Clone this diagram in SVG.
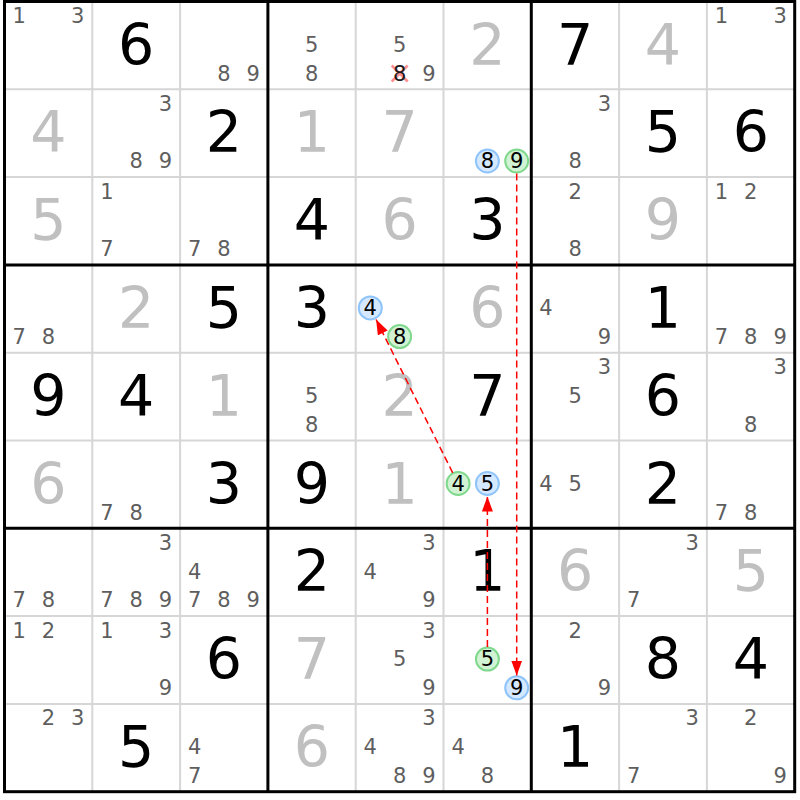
<svg xmlns="http://www.w3.org/2000/svg" width="800" height="800" viewBox="0 0 800 800">
<style>
text{font-family:"DejaVu Sans","Liberation Sans",sans-serif;text-anchor:middle}
.c{font-size:21px;fill:#5e5e5e}
.g{font-size:57px;fill:#000}
.s{font-size:57px;fill:#c0c0c0}
.cd{font-size:21px;fill:#000}
.cb{fill:#d4e8ff;stroke:#8ec4fa;stroke-width:2}
.cg{fill:#d2f2d4;stroke:#7fd88c;stroke-width:2}
.thin{stroke:#d6d6d6;stroke-width:2}
.thick{stroke:#000;stroke-width:3}
.arr{stroke:#ff0000;stroke-width:1.5;stroke-dasharray:7,4;fill:none;marker-end:url(#ah)}
</style>
<defs>
<marker id="ah" markerUnits="userSpaceOnUse" markerWidth="15" markerHeight="11" refX="15" refY="5.5" orient="auto">
<path d="M0,0 L15,5.5 L0,11 z" fill="#ff0000"/>
</marker>
</defs>
<rect width="800" height="800" fill="#fff"/>
<g id="grid">
<g class="thin">
<line x1="92.3" y1="1.5" x2="92.3" y2="791.7"/><line x1="180.1" y1="1.5" x2="180.1" y2="791.7"/>
<line x1="355.7" y1="1.5" x2="355.7" y2="791.7"/><line x1="443.5" y1="1.5" x2="443.5" y2="791.7"/>
<line x1="619.1" y1="1.5" x2="619.1" y2="791.7"/><line x1="706.9" y1="1.5" x2="706.9" y2="791.7"/>
<line x1="4.5" y1="89.3" x2="794.7" y2="89.3"/><line x1="4.5" y1="177.1" x2="794.7" y2="177.1"/>
<line x1="4.5" y1="352.7" x2="794.7" y2="352.7"/><line x1="4.5" y1="440.5" x2="794.7" y2="440.5"/>
<line x1="4.5" y1="616.1" x2="794.7" y2="616.1"/><line x1="4.5" y1="703.9" x2="794.7" y2="703.9"/>
</g>
<g class="thick">
<line x1="267.9" y1="1.5" x2="267.9" y2="791.7"/><line x1="531.3" y1="1.5" x2="531.3" y2="791.7"/>
<line x1="4.5" y1="264.9" x2="794.7" y2="264.9"/><line x1="4.5" y1="528.3" x2="794.7" y2="528.3"/>
<rect x="4.5" y="1.5" width="790.2" height="790.2" fill="none"/>
</g>
</g>
<!-- Row 1 -->
<g id="r1c1" transform="translate(4.5,1.5)"><text class="c" x="14.6" y="21.5">1</text><text class="c" x="73.2" y="21.5">3</text></g>
<g id="r1c2" transform="translate(92.3,1.5)"><text class="g" x="43.9" y="63">6</text></g>
<g id="r1c3" transform="translate(180.1,1.5)"><text class="c" x="43.9" y="79">8</text><text class="c" x="73.2" y="79">9</text></g>
<g id="r1c4" transform="translate(267.9,1.5)"><text class="c" x="43.9" y="50.3">5</text><text class="c" x="43.9" y="79">8</text></g>
<g id="r1c5" transform="translate(355.7,1.5)"><text class="c" x="43.9" y="50.3">5</text>
<g stroke="#ff8f8f" stroke-width="2.5"><line x1="36" y1="64" x2="52" y2="80"/><line x1="52" y1="64" x2="36" y2="80"/></g>
<text class="c" x="43.9" y="79" style="fill:#1a1a1a">8</text><text class="c" x="73.2" y="79">9</text></g>
<g id="r1c6" transform="translate(443.5,1.5)"><text class="s" x="43.9" y="63">2</text></g>
<g id="r1c7" transform="translate(531.3,1.5)"><text class="g" x="43.9" y="63">7</text></g>
<g id="r1c8" transform="translate(619.1,1.5)"><text class="s" x="43.9" y="63">4</text></g>
<g id="r1c9" transform="translate(706.9,1.5)"><text class="c" x="14.6" y="21.5">1</text><text class="c" x="73.2" y="21.5">3</text></g>
<!-- Row 2 -->
<g id="r2c1" transform="translate(4.5,89.3)"><text class="s" x="43.9" y="63">4</text></g>
<g id="r2c2" transform="translate(92.3,89.3)"><text class="c" x="73.2" y="21.5">3</text><text class="c" x="43.9" y="79">8</text><text class="c" x="73.2" y="79">9</text></g>
<g id="r2c3" transform="translate(180.1,89.3)"><text class="g" x="43.9" y="63">2</text></g>
<g id="r2c4" transform="translate(267.9,89.3)"><text class="s" x="43.9" y="63">1</text></g>
<g id="r2c5" transform="translate(355.7,89.3)"><text class="s" x="43.9" y="63">7</text></g>
<g id="r2c6" transform="translate(443.5,89.3)"><circle class="cb" cx="43.9" cy="71.7" r="11.5"/><text class="cd" x="43.9" y="79">8</text><circle class="cg" cx="73.2" cy="71.7" r="11.5"/><text class="cd" x="73.2" y="79">9</text></g>
<g id="r2c7" transform="translate(531.3,89.3)"><text class="c" x="73.2" y="21.5">3</text><text class="c" x="43.9" y="79">8</text></g>
<g id="r2c8" transform="translate(619.1,89.3)"><text class="g" x="43.9" y="63">5</text></g>
<g id="r2c9" transform="translate(706.9,89.3)"><text class="g" x="43.9" y="63">6</text></g>
<!-- Row 3 -->
<g id="r3c1" transform="translate(4.5,177.1)"><text class="s" x="43.9" y="63">5</text></g>
<g id="r3c2" transform="translate(92.3,177.1)"><text class="c" x="14.6" y="21.5">1</text><text class="c" x="14.6" y="79">7</text></g>
<g id="r3c3" transform="translate(180.1,177.1)"><text class="c" x="14.6" y="79">7</text><text class="c" x="43.9" y="79">8</text></g>
<g id="r3c4" transform="translate(267.9,177.1)"><text class="g" x="43.9" y="63">4</text></g>
<g id="r3c5" transform="translate(355.7,177.1)"><text class="s" x="43.9" y="63">6</text></g>
<g id="r3c6" transform="translate(443.5,177.1)"><text class="g" x="43.9" y="63">3</text></g>
<g id="r3c7" transform="translate(531.3,177.1)"><text class="c" x="43.9" y="21.5">2</text><text class="c" x="43.9" y="79">8</text></g>
<g id="r3c8" transform="translate(619.1,177.1)"><text class="s" x="43.9" y="63">9</text></g>
<g id="r3c9" transform="translate(706.9,177.1)"><text class="c" x="14.6" y="21.5">1</text><text class="c" x="43.9" y="21.5">2</text></g>
<!-- Row 4 -->
<g id="r4c1" transform="translate(4.5,264.9)"><text class="c" x="14.6" y="79">7</text><text class="c" x="43.9" y="79">8</text></g>
<g id="r4c2" transform="translate(92.3,264.9)"><text class="s" x="43.9" y="63">2</text></g>
<g id="r4c3" transform="translate(180.1,264.9)"><text class="g" x="43.9" y="63">5</text></g>
<g id="r4c4" transform="translate(267.9,264.9)"><text class="g" x="43.9" y="63">3</text></g>
<g id="r4c5" transform="translate(355.7,264.9)"><circle class="cb" cx="14.6" cy="43" r="11.5"/><text class="cd" x="14.6" y="50.3">4</text><circle class="cg" cx="43.9" cy="71.7" r="11.5"/><text class="cd" x="43.9" y="79">8</text></g>
<g id="r4c6" transform="translate(443.5,264.9)"><text class="s" x="43.9" y="63">6</text></g>
<g id="r4c7" transform="translate(531.3,264.9)"><text class="c" x="14.6" y="50.3">4</text><text class="c" x="73.2" y="79">9</text></g>
<g id="r4c8" transform="translate(619.1,264.9)"><text class="g" x="43.9" y="63">1</text></g>
<g id="r4c9" transform="translate(706.9,264.9)"><text class="c" x="14.6" y="79">7</text><text class="c" x="43.9" y="79">8</text><text class="c" x="73.2" y="79">9</text></g>
<!-- Row 5 -->
<g id="r5c1" transform="translate(4.5,352.7)"><text class="g" x="43.9" y="63">9</text></g>
<g id="r5c2" transform="translate(92.3,352.7)"><text class="g" x="43.9" y="63">4</text></g>
<g id="r5c3" transform="translate(180.1,352.7)"><text class="s" x="43.9" y="63">1</text></g>
<g id="r5c4" transform="translate(267.9,352.7)"><text class="c" x="43.9" y="50.3">5</text><text class="c" x="43.9" y="79">8</text></g>
<g id="r5c5" transform="translate(355.7,352.7)"><text class="s" x="43.9" y="63">2</text></g>
<g id="r5c6" transform="translate(443.5,352.7)"><text class="g" x="43.9" y="63">7</text></g>
<g id="r5c7" transform="translate(531.3,352.7)"><text class="c" x="73.2" y="21.5">3</text><text class="c" x="43.9" y="50.3">5</text></g>
<g id="r5c8" transform="translate(619.1,352.7)"><text class="g" x="43.9" y="63">6</text></g>
<g id="r5c9" transform="translate(706.9,352.7)"><text class="c" x="73.2" y="21.5">3</text><text class="c" x="43.9" y="79">8</text></g>
<!-- Row 6 -->
<g id="r6c1" transform="translate(4.5,440.5)"><text class="s" x="43.9" y="63">6</text></g>
<g id="r6c2" transform="translate(92.3,440.5)"><text class="c" x="14.6" y="79">7</text><text class="c" x="43.9" y="79">8</text></g>
<g id="r6c3" transform="translate(180.1,440.5)"><text class="g" x="43.9" y="63">3</text></g>
<g id="r6c4" transform="translate(267.9,440.5)"><text class="g" x="43.9" y="63">9</text></g>
<g id="r6c5" transform="translate(355.7,440.5)"><text class="s" x="43.9" y="63">1</text></g>
<g id="r6c6" transform="translate(443.5,440.5)"><circle class="cg" cx="14.6" cy="43" r="11.5"/><text class="cd" x="14.6" y="50.3">4</text><circle class="cb" cx="43.9" cy="43" r="11.5"/><text class="cd" x="43.9" y="50.3">5</text></g>
<g id="r6c7" transform="translate(531.3,440.5)"><text class="c" x="14.6" y="50.3">4</text><text class="c" x="43.9" y="50.3">5</text></g>
<g id="r6c8" transform="translate(619.1,440.5)"><text class="g" x="43.9" y="63">2</text></g>
<g id="r6c9" transform="translate(706.9,440.5)"><text class="c" x="14.6" y="79">7</text><text class="c" x="43.9" y="79">8</text></g>
<!-- Row 7 -->
<g id="r7c1" transform="translate(4.5,528.3)"><text class="c" x="14.6" y="79">7</text><text class="c" x="43.9" y="79">8</text></g>
<g id="r7c2" transform="translate(92.3,528.3)"><text class="c" x="73.2" y="21.5">3</text><text class="c" x="14.6" y="79">7</text><text class="c" x="43.9" y="79">8</text><text class="c" x="73.2" y="79">9</text></g>
<g id="r7c3" transform="translate(180.1,528.3)"><text class="c" x="14.6" y="50.3">4</text><text class="c" x="14.6" y="79">7</text><text class="c" x="43.9" y="79">8</text><text class="c" x="73.2" y="79">9</text></g>
<g id="r7c4" transform="translate(267.9,528.3)"><text class="g" x="43.9" y="63">2</text></g>
<g id="r7c5" transform="translate(355.7,528.3)"><text class="c" x="73.2" y="21.5">3</text><text class="c" x="14.6" y="50.3">4</text><text class="c" x="73.2" y="79">9</text></g>
<g id="r7c6" transform="translate(443.5,528.3)"><text class="g" x="43.9" y="63">1</text></g>
<g id="r7c7" transform="translate(531.3,528.3)"><text class="s" x="43.9" y="63">6</text></g>
<g id="r7c8" transform="translate(619.1,528.3)"><text class="c" x="73.2" y="21.5">3</text><text class="c" x="14.6" y="79">7</text></g>
<g id="r7c9" transform="translate(706.9,528.3)"><text class="s" x="43.9" y="63">5</text></g>
<!-- Row 8 -->
<g id="r8c1" transform="translate(4.5,616.1)"><text class="c" x="14.6" y="21.5">1</text><text class="c" x="43.9" y="21.5">2</text></g>
<g id="r8c2" transform="translate(92.3,616.1)"><text class="c" x="14.6" y="21.5">1</text><text class="c" x="73.2" y="21.5">3</text><text class="c" x="73.2" y="79">9</text></g>
<g id="r8c3" transform="translate(180.1,616.1)"><text class="g" x="43.9" y="63">6</text></g>
<g id="r8c4" transform="translate(267.9,616.1)"><text class="s" x="43.9" y="63">7</text></g>
<g id="r8c5" transform="translate(355.7,616.1)"><text class="c" x="73.2" y="21.5">3</text><text class="c" x="43.9" y="50.3">5</text><text class="c" x="73.2" y="79">9</text></g>
<g id="r8c6" transform="translate(443.5,616.1)"><circle class="cg" cx="43.9" cy="43" r="11.5"/><text class="cd" x="43.9" y="50.3">5</text><circle class="cb" cx="73.2" cy="71.7" r="11.5"/><text class="cd" x="73.2" y="79">9</text></g>
<g id="r8c7" transform="translate(531.3,616.1)"><text class="c" x="43.9" y="21.5">2</text><text class="c" x="73.2" y="79">9</text></g>
<g id="r8c8" transform="translate(619.1,616.1)"><text class="g" x="43.9" y="63">8</text></g>
<g id="r8c9" transform="translate(706.9,616.1)"><text class="g" x="43.9" y="63">4</text></g>
<!-- Row 9 -->
<g id="r9c1" transform="translate(4.5,703.9)"><text class="c" x="43.9" y="21.5">2</text><text class="c" x="73.2" y="21.5">3</text></g>
<g id="r9c2" transform="translate(92.3,703.9)"><text class="g" x="43.9" y="63">5</text></g>
<g id="r9c3" transform="translate(180.1,703.9)"><text class="c" x="14.6" y="50.3">4</text><text class="c" x="14.6" y="79">7</text></g>
<g id="r9c4" transform="translate(267.9,703.9)"><text class="s" x="43.9" y="63">6</text></g>
<g id="r9c5" transform="translate(355.7,703.9)"><text class="c" x="73.2" y="21.5">3</text><text class="c" x="14.6" y="50.3">4</text><text class="c" x="43.9" y="79">8</text><text class="c" x="73.2" y="79">9</text></g>
<g id="r9c6" transform="translate(443.5,703.9)"><text class="c" x="14.6" y="50.3">4</text><text class="c" x="43.9" y="79">8</text></g>
<g id="r9c7" transform="translate(531.3,703.9)"><text class="g" x="43.9" y="63">1</text></g>
<g id="r9c8" transform="translate(619.1,703.9)"><text class="c" x="73.2" y="21.5">3</text><text class="c" x="14.6" y="79">7</text></g>
<g id="r9c9" transform="translate(706.9,703.9)"><text class="c" x="43.9" y="21.5">2</text><text class="c" x="73.2" y="79">9</text></g>
<g id="connectors">
<line class="arr" x1="516.7" y1="173.5" x2="516.7" y2="675.5"/>
<line class="arr" x1="487.4" y1="647" x2="487.4" y2="496.5"/>
<line class="arr" x1="452.7" y1="472.8" x2="376.1" y2="319.5"/>
</g>
</svg>
